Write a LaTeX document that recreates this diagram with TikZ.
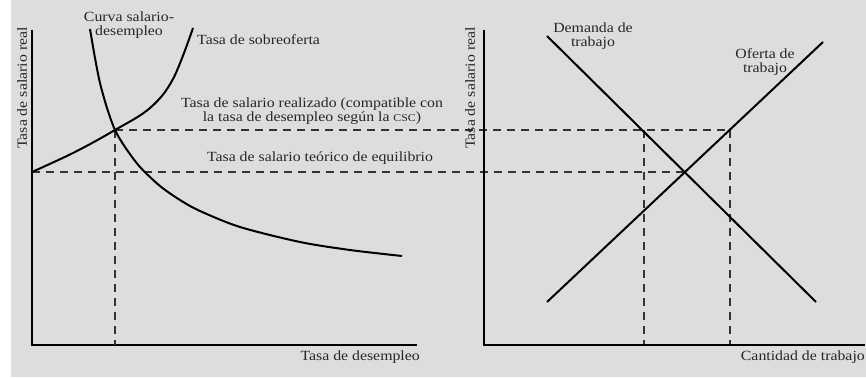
\documentclass[tikz,border=0pt]{standalone}
\usepackage{fontspec}
\setmainfont{Liberation Serif}[FakeStretch=1.13]
\definecolor{bg}{RGB}{220,221,223}
\begin{document}
\begin{tikzpicture}[x=1pt,y=-1pt,
  axis/.style={line width=1.3pt},
  curve/.style={line width=2pt},
  guide/.style={line width=1.1pt,dash pattern=on 8pt off 6pt,black!80},
  lbl/.style={inner sep=0pt,font=\fontsize{14}{13.5}\selectfont,align=center,text=black!85}]
\useasboundingbox (0,0) rectangle (866,377);
\fill[bg] (11,0) rectangle (866,377);
% left panel
\coordinate (LO) at (32,345);
\coordinate (LT) at (32,30);
\coordinate (LX) at (417,345);
\draw[axis] (LT) -- (LO) -- (LX);
\node[lbl,rotate=90] (ly) at (22,88) {Tasa de salario real};
\node[lbl,anchor=east] (lx) at (420,357) {Tasa de desempleo};
\coordinate (E0) at (32,172);
\coordinate (R0) at (115,130);
\coordinate (RB) at (115,345);
\coordinate (E1) at (684,172);
\coordinate (R1) at (730,130);
\coordinate (R2) at (644,130);
\coordinate (RB1) at (644,345);
\coordinate (RB2) at (730,345);
\draw[guide] (E0) -- (E1);
\draw[guide] (R0) -- (R1);
\draw[guide] (R0) -- (RB);
\draw[guide] (R2) -- (RB1);
\draw[guide] (R1) -- (RB2);
\draw[curve] plot[smooth,tension=0.6] coordinates {(32,172) (75,152) (115,130) (150,108) (173,79) (193,28)};
\draw[curve] plot[smooth,tension=0.5] coordinates {(90,29) (95,58) (100,83) (107,108) (115,130) (125,147) (140,167) (160,186) (180,200) (200,211) (240,227) (300,242) (350,250) (402,256)};
\node[lbl] (csd) at (129,25) {Curva salario-\\desempleo};
\node[lbl,anchor=west] (so) at (197,40) {Tasa de sobreoferta};
\node[lbl] (tr) at (312,111) {Tasa de salario realizado (compatible con\\la tasa de desempleo según la {\fontsize{10.5}{13.5}\selectfont CSC})};
\node[lbl] (te) at (320,158) {Tasa de salario teórico de equilibrio};
% right panel
\coordinate (RO) at (484,345);
\coordinate (RT) at (484,30);
\coordinate (RX) at (865,345);
\draw[axis] (RT) -- (RO) -- (RX);
\node[lbl,rotate=90] (ry) at (470,88) {Tasa de salario real};
\node[lbl,anchor=east] (rx) at (865,357) {Cantidad de trabajo};
\coordinate (D0) at (547,36);
\coordinate (D1) at (816,302);
\coordinate (S0) at (547,302);
\coordinate (S1) at (823,42);
\draw[curve] (D0) -- (D1);
\draw[curve] (S0) -- (S1);
\node[lbl] (dl) at (593,36) {Demanda de\\trabajo};
\node[lbl] (ol) at (765,62) {Oferta de\\trabajo};
\end{tikzpicture}
\end{document}
